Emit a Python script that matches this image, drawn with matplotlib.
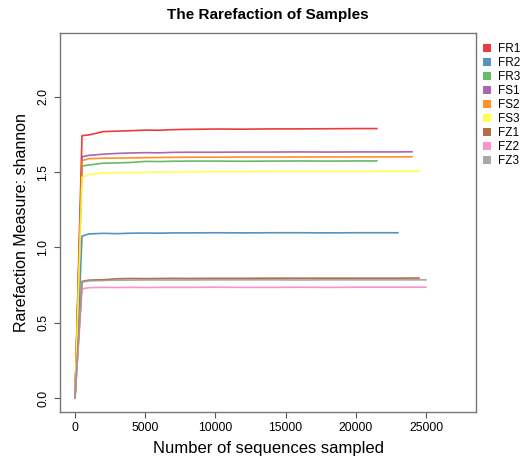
import matplotlib
matplotlib.use("Agg")
import matplotlib.pyplot as plt
from matplotlib.patches import Patch

plt.rcParams['font.family'] = ['Liberation Sans', 'DejaVu Sans']

# sequencing depths at which shannon index was computed
depths = [0, 500, 1000, 2000, 3000, 4000, 5000, 6000, 7000, 8000, 10000,
          12000, 14000, 16000, 18000, 20000, 21500, 23000, 24000, 24500, 25000]

samples = ["FR1", "FR2", "FR3", "FS1", "FS2", "FS3", "FZ1", "FZ2", "FZ3"]
colors = ["#E41A1C", "#377EB8", "#4DAF4A", "#984EA3", "#FF7F00",
          "#FFFF33", "#A65628", "#F781BF", "#999999"]

FR1 = [0, 1.743, 1.748, 1.770, 1.773, 1.776, 1.780, 1.779, 1.783, 1.785, 1.787,
       1.786, 1.788, 1.788, 1.789, 1.790, 1.790]
FR2 = [0, 1.076, 1.090, 1.094, 1.092, 1.095, 1.096, 1.095, 1.097, 1.097, 1.098,
       1.097, 1.098, 1.098, 1.097, 1.098, 1.098, 1.098]
FR3 = [0, 1.541, 1.548, 1.560, 1.562, 1.565, 1.572, 1.571, 1.573, 1.574, 1.574,
       1.573, 1.574, 1.575, 1.574, 1.575, 1.575]
FS1 = [0, 1.603, 1.612, 1.620, 1.625, 1.628, 1.630, 1.629, 1.632, 1.633, 1.633,
       1.634, 1.634, 1.635, 1.634, 1.635, 1.635, 1.635, 1.636]
FS2 = [0, 1.577, 1.590, 1.593, 1.594, 1.595, 1.597, 1.598, 1.599, 1.600, 1.600,
       1.601, 1.601, 1.601, 1.602, 1.602, 1.602, 1.602, 1.603]
FS3 = [0, 1.466, 1.485, 1.495, 1.497, 1.497, 1.500, 1.501, 1.502, 1.503, 1.504,
       1.504, 1.505, 1.505, 1.505, 1.505, 1.506, 1.506, 1.506, 1.507]
FZ1 = [0, 0.775, 0.783, 0.786, 0.792, 0.794, 0.793, 0.794, 0.795, 0.794, 0.795,
       0.795, 0.796, 0.796, 0.796, 0.796, 0.796, 0.796, 0.797, 0.797]
FZ2 = [0, 0.725, 0.733, 0.735, 0.734, 0.735, 0.734, 0.735, 0.735, 0.735, 0.736,
       0.735, 0.735, 0.736, 0.735, 0.736, 0.736, 0.736, 0.736, 0.736, 0.736]
FZ3 = [0, 0.770, 0.778, 0.781, 0.783, 0.783, 0.784, 0.784, 0.784, 0.784, 0.785,
       0.785, 0.785, 0.784, 0.785, 0.785, 0.785, 0.785, 0.785, 0.785, 0.785]

series = [FR1, FR2, FR3, FS1, FS2, FS3, FZ1, FZ2, FZ3]

fig = plt.figure(figsize=(5.21, 4.65), dpi=100)
ax = fig.add_axes([0.1152, 0.114, 0.7984, 0.815])

for vals, col in zip(series, colors):
    ax.plot(depths[:len(vals)], vals, color=col, lw=1.2, alpha=0.85)

ax.set_xlim(-1068, 28560)
ax.set_ylim(-0.093, 2.425)
ax.set_xticks([0, 5000, 10000, 15000, 20000, 25000])
ax.set_yticks([0.0, 0.5, 1.0, 1.5, 2.0])
ax.set_yticklabels(["0.0", "0.5", "1.0", "1.5", "2.0"], rotation=90, va="center")
ax.tick_params(labelsize=8.8, length=4, color="#555555", width=0.8)
for sp in ax.spines.values():
    sp.set_color("#777777")
    sp.set_linewidth(1.0)

ax.set_xlabel("Number of sequences sampled", fontsize=12, labelpad=5)
ax.set_ylabel("Rarefaction Measure: shannon", fontsize=11.5, labelpad=6)
ax.set_title("The Rarefaction of Samples", fontsize=11, fontweight="bold", pad=10)

handles = [Patch(facecolor=c, edgecolor="none", alpha=0.85) for c in colors]
fig.legend(handles, samples, loc="upper left", bbox_to_anchor=(0.918, 0.917),
           frameon=False, fontsize=8.5, handlelength=0.7, handleheight=0.7,
           handletextpad=0.6, labelspacing=0.17, borderaxespad=0)

fig.savefig("out.png", dpi=100)
